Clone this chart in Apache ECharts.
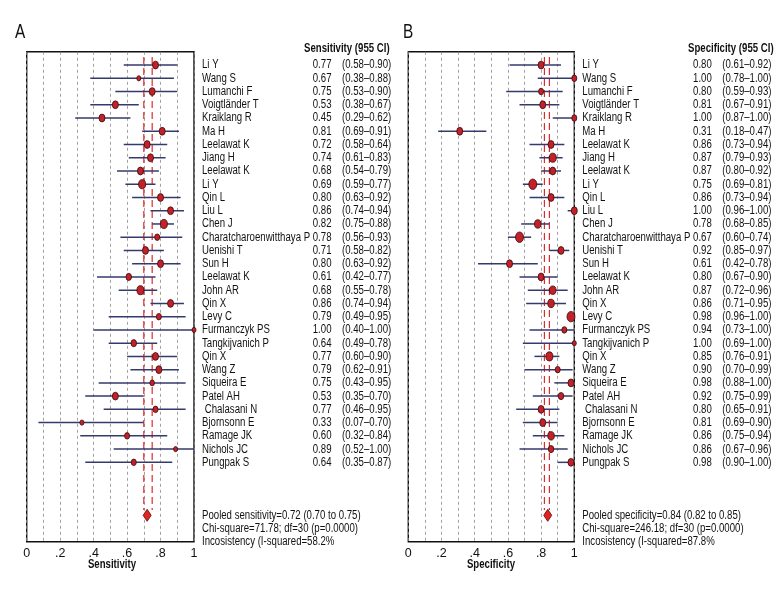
<!DOCTYPE html>
<html><head><meta charset="utf-8">
<script src="https://cdn.jsdelivr.net/npm/echarts@6/dist/echarts.min.js"></script>
<style>html,body{margin:0;padding:0;background:#fff}#c{width:780px;height:600px}</style>
</head><body><div id="c"></div>
<script>
const studies = ['Li Y','Wang S','Lumanchi F','Voigtländer T','Kraiklang R','Ma H','Leelawat K','Jiang H','Leelawat K','Li Y','Qin L','Liu L','Chen J','Charatcharoenwitthaya P','Uenishi T','Sun H','Leelawat K','John AR','Qin X','Levy C','Furmanczyk PS','Tangkijvanich P','Qin X','Wang Z','Siqueira E','Patel AH',' Chalasani N','Bjornsonn E','Ramage JK','Nichols JC','Pungpak S'];

const sensVal = [0.77,0.67,0.75,0.53,0.45,0.81,0.72,0.74,0.68,0.69,0.80,0.86,0.82,0.78,0.71,0.80,0.61,0.68,0.86,0.79,1.00,0.64,0.77,0.79,0.75,0.53,0.77,0.33,0.60,0.89,0.64];
const sensLo  = [0.58,0.38,0.53,0.38,0.29,0.69,0.58,0.61,0.54,0.59,0.63,0.74,0.75,0.56,0.58,0.63,0.42,0.55,0.74,0.49,0.40,0.49,0.60,0.62,0.43,0.35,0.46,0.07,0.32,0.52,0.35];
const sensHi  = [0.90,0.88,0.90,0.67,0.62,0.91,0.84,0.83,0.79,0.77,0.92,0.94,0.88,0.93,0.82,0.92,0.77,0.78,0.94,0.95,1.00,0.78,0.90,0.91,0.95,0.70,0.95,0.70,0.84,1.00,0.87];
const sensCI  = ['(0.58–0.90)','(0.38–0.88)','(0.53–0.90)','(0.38–0.67)','(0.29–0.62)','(0.69–0.91)','(0.58–0.64)','(0.61–0.83)','(0.54–0.79)','(0.59–0.77)','(0.63–0.92)','(0.74–0.94)','(0.75–0.88)','(0.56–0.93)','(0.58–0.82)','(0.63–0.92)','(0.42–0.77)','(0.55–0.78)','(0.74–0.94)','(0.49–0.95)','(0.40–1.00)','(0.49–0.78)','(0.60–0.90)','(0.62–0.91)','(0.43–0.95)','(0.35–0.70)','(0.46–0.95)','(0.07–0.70)','(0.32–0.84)','(0.52–1.00)','(0.35–0.87)'];
const sensSize = [6,4,6,6,6,6,6,6,6,7,6,6,7,5,6,6,5.5,7,6,5,4,5.5,6,6,4.5,6,5,4,5,4,5];

const specVal = [0.80,1.00,0.80,0.81,1.00,0.31,0.86,0.87,0.87,0.75,0.86,1.00,0.78,0.67,0.92,0.61,0.80,0.87,0.86,0.98,0.94,1.00,0.85,0.90,0.98,0.92,0.80,0.81,0.86,0.86,0.98];
const specLo  = [0.61,0.78,0.59,0.67,0.87,0.18,0.73,0.79,0.80,0.69,0.73,0.96,0.68,0.60,0.85,0.42,0.67,0.72,0.71,0.96,0.73,0.69,0.76,0.70,0.88,0.75,0.65,0.69,0.75,0.67,0.90];
const specHi  = [0.92,1.00,0.93,0.91,1.00,0.47,0.94,0.93,0.92,0.81,0.94,1.00,0.85,0.74,0.97,0.78,0.90,0.96,0.95,1.00,1.00,1.00,0.91,0.99,1.00,0.99,0.91,0.90,0.94,0.96,1.00];
const specCI  = ['(0.61–0.92)','(0.78–1.00)','(0.59–0.93)','(0.67–0.91)','(0.87–1.00)','(0.18–0.47)','(0.73–0.94)','(0.79–0.93)','(0.80–0.92)','(0.69–0.81)','(0.73–0.94)','(0.96–1.00)','(0.68–0.85)','(0.60–0.74)','(0.85–0.97)','(0.42–0.78)','(0.67–0.90)','(0.72–0.96)','(0.71–0.95)','(0.96–1.00)','(0.73–1.00)','(0.69–1.00)','(0.76–0.91)','(0.70–0.99)','(0.88–1.00)','(0.75–0.99)','(0.65–0.91)','(0.69–0.90)','(0.75–0.94)','(0.67–0.96)','(0.90–1.00)'];
const specSize = [6,5,5,6,5,6,6,7,6,8,6,6,6.5,8,6,6,6,6.5,6.5,8,5,4,7,5,6,5.5,6,6,6.5,5.5,6];

const pooledRow = 34;
const pooledSens = [0.72, 0.70, 0.75];
const pooledSpec = [0.84, 0.82, 0.85];
const sensFooter = ['Pooled sensitivity=0.72 (0.70 to 0.75)','Chi-square=71.78; df=30 (p=0.0000)','Incosistency (I-squared=58.2%'];
const specFooter = ['Pooled specificity=0.84 (0.82 to 0.85)','Chi-square=246.18; df=30 (p=0.0000)','Incosistency (I-squared=87.8%'];

const FONT = "'Liberation Sans','Arial',sans-serif";
const FS = 12.5;
const SX = 0.77;

function tickFmt(v){const k=Math.round(v*10); if(k%2) return ''; if(k===0) return '0'; if(k===10) return '1'; return '.'+k;}

function txt(x,y,s,align,font){return {type:'text',x:x,y:y,scaleX:SX,style:{text:s,font:font||(FS+'px '+FONT),fill:'#111',verticalAlign:'middle',align:align}};}

function panelSeries(gi, vals, lo, hi, size, ci, pooled, footer){
  const ciData = vals.map((v,i)=>[lo[i],hi[i],i]);
  const ptData = vals.map((v,i)=>({value:[v,i], symbolSize:[size[i], size[i]*1.3]}));
  const txtData = vals.map((v,i)=>[i]);
  const footData = footer.map((f,i)=>[pooledRow+i]);
  return [
    {type:'custom', xAxisIndex:gi, yAxisIndex:gi, data:ciData, encode:{x:[0,1],y:2}, z:3,
     renderItem:(p,api)=>{const a=api.coord([api.value(0),api.value(2)]);const b=api.coord([api.value(1),api.value(2)]);
       return {type:'line',shape:{x1:a[0],y1:a[1],x2:b[0],y2:b[1]},style:{stroke:'#343a6c',lineWidth:1.5}};}},
    {type:'line', xAxisIndex:gi, yAxisIndex:gi, data:[[pooled[1],-0.6],[pooled[1],pooledRow-0.4]], symbol:'none', z:2,
     lineStyle:{color:'#dd2a2a',width:1.2,type:[7,4]}},
    {type:'line', xAxisIndex:gi, yAxisIndex:gi, data:[[pooled[2],-0.6],[pooled[2],pooledRow-0.4]], symbol:'none', z:2,
     lineStyle:{color:'#dd2a2a',width:1.2,type:[7,4]}},
    {type:'scatter', xAxisIndex:gi, yAxisIndex:gi, data:ptData, symbol:'circle', z:4,
     itemStyle:{color:'#c3212a',borderColor:'#3a0a0a',borderWidth:0.8,opacity:1}},
    {type:'scatter', xAxisIndex:gi, yAxisIndex:gi, data:[[pooled[0],pooledRow]], symbol:'diamond', symbolSize:[8,12], z:4,
     itemStyle:{color:'#e2231f',borderColor:'#5a0a0a',borderWidth:0.8,opacity:1}},
    {type:'custom', xAxisIndex:gi, yAxisIndex:gi, data:txtData, encode:{y:0}, z:5, clip:false,
     renderItem:(p,api)=>{const i=api.value(0);const c=api.coord([1,i]);
       return {type:'group',children:[
         txt(c[0]+8,c[1],studies[i],'left'),
         txt(c[0]+137.5,c[1],vals[i].toFixed(2),'right'),
         txt(c[0]+148,c[1],ci[i],'left')
       ]};}},
    {type:'custom', xAxisIndex:gi, yAxisIndex:gi, data:footData, encode:{y:0}, z:5, clip:false,
     renderItem:(p,api)=>{const r=api.value(0);const c=api.coord([1,r]);
       return txt(c[0]+8,c[1],footer[p.dataIndex],'left');}}
  ];
}

const xAxisBase = ()=>({type:'value',min:0,max:1,interval:0.1,
  axisLine:{show:false},axisTick:{show:false},
  axisLabel:{formatter:tickFmt,fontFamily:FONT,fontSize:12.5,color:'#111',margin:5,showMinLabel:true,showMaxLabel:true},
  splitLine:{show:true,lineStyle:{color:'#8a8a8a',width:0.8,type:[3,3]}}});
const yAxisBase = ()=>({type:'value',min:-1,max:36,inverse:true,show:false});

function gtext(x,y,s,font,align){return {type:'text',x:x,y:y,scaleX:SX,style:{text:s,font:font,fill:'#111',align:align,verticalAlign:'middle'}};}

const chart = echarts.init(document.getElementById('c'),null,{renderer:'canvas'});
chart.setOption({
  animation:false,
  grid:[
    {left:26.7,top:51.8,width:167.3,height:490,show:true,borderColor:'#111',borderWidth:1.4,backgroundColor:'transparent'},
    {left:408.3,top:51.8,width:166,height:490,show:true,borderColor:'#111',borderWidth:1.4,backgroundColor:'transparent'}
  ],
  xAxis:[Object.assign(xAxisBase(),{gridIndex:0}),Object.assign(xAxisBase(),{gridIndex:1})],
  yAxis:[Object.assign(yAxisBase(),{gridIndex:0}),Object.assign(yAxisBase(),{gridIndex:1})],
  graphic:[
    gtext(15,32,'A','20px '+FONT,'left'),
    gtext(403,32,'B','20px '+FONT,'left'),
    gtext(304,49,'Sensitivity (955 CI)','bold 12.5px '+FONT,'left'),
    gtext(688,49,'Specificity (955 CI)','bold 12.5px '+FONT,'left'),
    gtext(112,565,'Sensitivity','bold 12.5px '+FONT,'center'),
    gtext(491,565,'Specificity','bold 12.5px '+FONT,'center')
  ],
  series:[].concat(
    panelSeries(0,sensVal,sensLo,sensHi,sensSize,sensCI,pooledSens,sensFooter),
    panelSeries(1,specVal,specLo,specHi,specSize,specCI,pooledSpec,specFooter)
  )
});
</script></body></html>
